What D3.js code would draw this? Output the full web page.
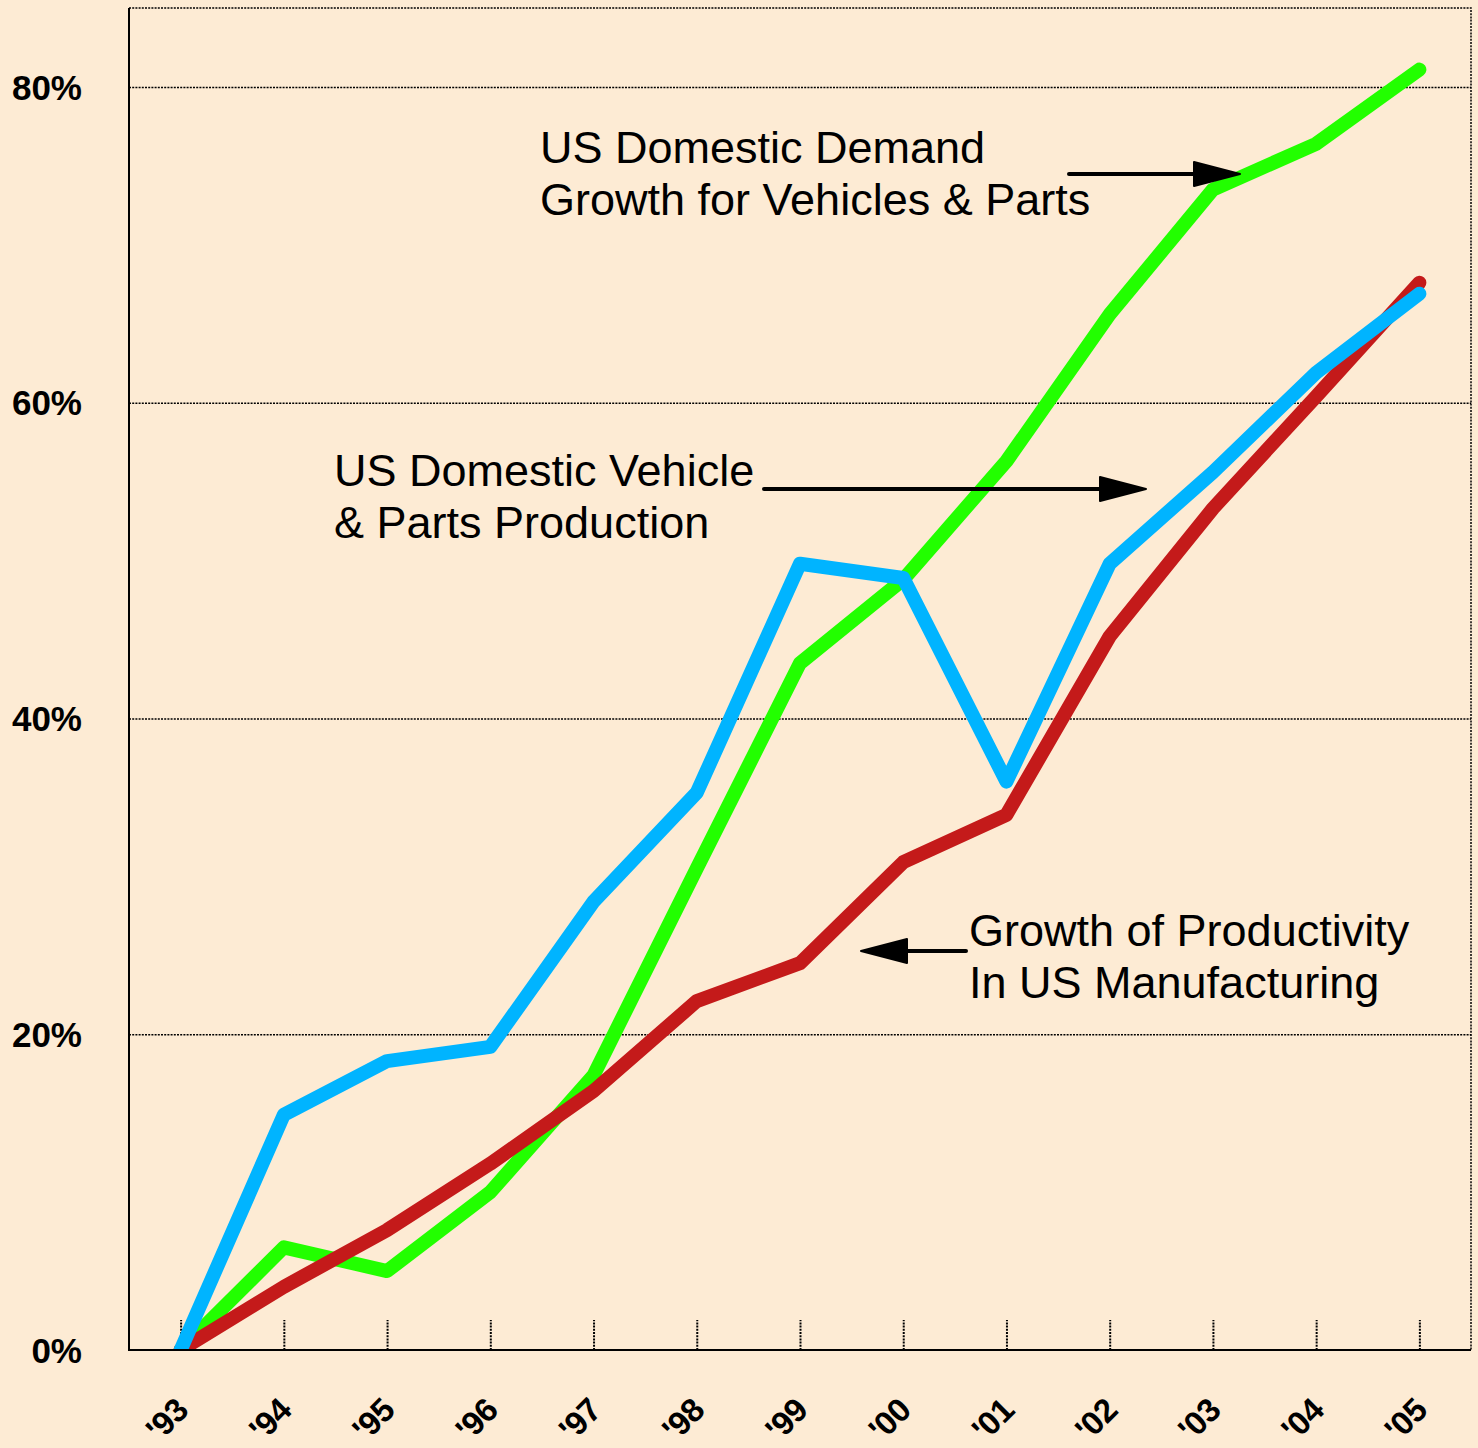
<!DOCTYPE html>
<html>
<head>
<meta charset="utf-8">
<script src="https://cdn.jsdelivr.net/npm/d3@7"></script>
<style>
  body { margin: 0; background: #fdebd4; }
  svg { display: block; }
</style>
</head>
<body>
<div id="chart"></div>
<script>
// chart data (percent growth since '93)
var years = ["'93", "'94", "'95", "'96", "'97", "'98", "'99", "'00", "'01", "'02", "'03", "'04", "'05"];
var demand = [0, 6.5, 5.0, 10.0, 17.4, 30.5, 43.5, 48.8, 56.3, 65.6, 73.5, 76.4, 81.1];
var production = [0, 14.9, 18.3, 19.2, 28.4, 35.3, 49.8, 48.9, 36.0, 49.8, 55.6, 61.9, 66.9];
var productivity = [0, 4.0, 7.6, 11.8, 16.4, 22.1, 24.5, 30.9, 33.9, 45.2, 53.3, 60.4, 67.6];
var yTicks = [0, 20, 40, 60, 80];

var width = 1478, height = 1448;
var plotLeft = 129, plotRight = 1471, plotTop = 8, plotBottom = 1350;

var svg = d3.select("#chart").append("svg")
    .attr("width", width)
    .attr("height", height)
    .style("font-family", "'Liberation Sans', Arial, sans-serif");

svg.append("rect")
    .attr("width", width)
    .attr("height", height)
    .attr("fill", "#fdebd4");

var x = d3.scalePoint()
    .domain(years)
    .range([plotLeft, plotRight])
    .padding(0.5);

var y = d3.scaleLinear()
    .domain([0, 85])
    .range([plotBottom, plotTop]);

// dotted grid lines
var grid = svg.append("g")
    .attr("transform", "translate(" + plotLeft + ",0)")
    .call(d3.axisLeft(y).tickValues(yTicks.slice(1)).tickSize(-(plotRight - plotLeft)).tickFormat(""));
grid.select(".domain").remove();
grid.selectAll("line")
    .attr("stroke", "#000")
    .attr("stroke-width", 1.5)
    .attr("stroke-dasharray", "2,1.2");

// top and right dotted frame
svg.append("path")
    .attr("d", "M" + plotLeft + "," + plotTop + "H" + plotRight + "V" + plotBottom)
    .attr("fill", "none")
    .attr("stroke", "#000")
    .attr("stroke-width", 1.5)
    .attr("stroke-dasharray", "2,1.2");

// x ticks (dotted, pointing up)
var xAxis = svg.append("g")
    .attr("transform", "translate(0," + plotBottom + ")")
    .call(d3.axisBottom(x).tickSize(-30).tickFormat(""));
xAxis.select(".domain").remove();
xAxis.selectAll("line")
    .attr("stroke", "#000")
    .attr("stroke-width", 2)
    .attr("stroke-dasharray", "2,1.2");

// y labels
svg.append("g").selectAll("text")
    .data(yTicks)
    .enter().append("text")
    .attr("x", 82)
    .attr("y", function(d) { return y(d); })
    .attr("dy", "0.36em")
    .attr("text-anchor", "end")
    .attr("font-weight", "bold")
    .attr("font-size", 35)
    .text(function(d) { return d + "%"; });

// x labels, rotated
svg.append("g").selectAll("text")
    .data(years)
    .enter().append("text")
    .attr("transform", function(d) { return "translate(" + (x(d) - 14) + ",1419) rotate(-45)"; })
    .attr("text-anchor", "middle")
    .attr("dy", "0.36em")
    .attr("font-weight", "bold")
    .attr("font-size", 33)
    .attr("letter-spacing", -0.5)
    .text(function(d) { return d; });

// lines
svg.append("clipPath").attr("id", "plot")
    .append("rect")
    .attr("x", plotLeft).attr("y", plotTop)
    .attr("width", plotRight - plotLeft).attr("height", plotBottom - plotTop);

var line = d3.line()
    .x(function(d, i) { return x(years[i]); })
    .y(function(d) { return y(d); });

var series = [
    { values: demand, color: "#22ff00" },
    { values: productivity, color: "#c41a1a" },
    { values: production, color: "#00b4ff" }
];

svg.append("g")
    .attr("clip-path", "url(#plot)")
    .selectAll("path")
    .data(series)
    .enter().append("path")
    .attr("d", function(d) { return line(d.values); })
    .attr("fill", "none")
    .attr("stroke", function(d) { return d.color; })
    .attr("stroke-width", 14)
    .attr("stroke-linejoin", "round")
    .attr("stroke-linecap", "round");

// axis lines (solid left and bottom)
svg.append("path")
    .attr("d", "M" + plotLeft + "," + plotTop + "V" + plotBottom + "H" + plotRight)
    .attr("fill", "none")
    .attr("stroke", "#000")
    .attr("stroke-width", 2);

// annotations
function label(lines, tx, ty) {
    var t = svg.append("text")
        .attr("x", tx)
        .attr("y", ty)
        .attr("font-size", 45)
        .attr("fill", "#000");
    lines.forEach(function(s, i) {
        t.append("tspan").attr("x", tx).attr("dy", i ? 52 : 0).text(s);
    });
}

function arrow(x1, x2, ay) {
    var dir = x2 > x1 ? 1 : -1;
    svg.append("line")
        .attr("x1", x1).attr("y1", ay)
        .attr("x2", x2 - dir * 40).attr("y2", ay)
        .attr("stroke", "#000")
        .attr("stroke-width", 4)
        .attr("stroke-linecap", "round");
    svg.append("path")
        .attr("d", "M" + x2 + "," + ay + "L" + (x2 - dir * 46) + "," + (ay - 12) +
                   "L" + (x2 - dir * 46) + "," + (ay + 12) + "Z")
        .attr("fill", "#000")
        .attr("stroke", "#000")
        .attr("stroke-width", 2)
        .attr("stroke-linejoin", "round");
}

label(["US Domestic Demand", "Growth for Vehicles & Parts"], 540, 163);
arrow(1069, 1240, 174);

label(["US Domestic Vehicle", "& Parts Production"], 334, 486);
arrow(764, 1146, 489);

label(["Growth of Productivity", "In US Manufacturing"], 969, 946);
arrow(966, 861, 951);
</script>
</body>
</html>
